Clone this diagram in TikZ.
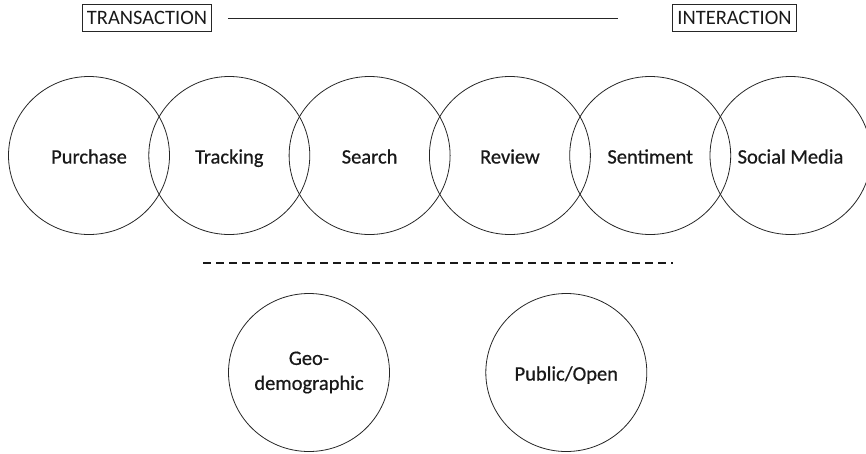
\documentclass[tikz,border=0pt]{standalone}
\usepackage{fontspec}
\setmainfont{Carlito}
\newfontfamily\lblfont{Carlito}[FakeBold=0.6]
\usetikzlibrary{positioning,shapes.geometric}

\begin{document}
\begin{tikzpicture}[x=1pt,y=-1pt,
        src/.style={ellipse,draw=black!85,line width=0.8pt,minimum width=161pt,minimum height=158pt,inner sep=0pt,
            align=center,text=black!90,font=\lblfont\fontsize{20.5}{25}\selectfont},
        one/.style={text height=21pt,text depth=5pt},
        pole/.style={rectangle,draw=black!85,line width=0.8pt,inner xsep=4.5pt,inner ysep=7pt,
            text=black!90,font=\fontsize{20.5}{24}\selectfont}]

        \useasboundingbox (0,0) rectangle (866,453);

        % transaction -- interaction scale
        \node[pole] (transaction) at (147,18) {TRANSACTION};
        \node[pole] (interaction) at (734.5,18) {INTERACTION};
        \draw[black!85,line width=0.8pt] ([xshift=16pt]transaction.east) -- ([xshift=-54pt]interaction.west);

        % overlapping sources
        \node[src,one] (purchase) at (89,155.5) {Purchase};
        \node[src,one,right=-21.5pt of purchase] (tracking) {Tracking};
        \node[src,one,right=-21.5pt of tracking] (search) {Search};
        \node[src,one,right=-21.5pt of search] (review) {Review};
        \node[src,one,right=-21.5pt of review] (sentiment) {Sentiment};
        \node[src,one,right=-21.5pt of sentiment] (social) {Social Media};

        % separator
        \coordinate (sepL) at (203,263);
        \coordinate (sepR) at (673,263);
        \draw[black!90,line width=1.6pt,dash pattern=on 8pt off 5pt] (sepL) -- (sepR);

        \node[src] (geo) at (309,372.5) {Geo-\\demographic};
        \node[src,one,right=95.5pt of geo] (public) {Public/Open};
    \end{tikzpicture}
\end{document}
